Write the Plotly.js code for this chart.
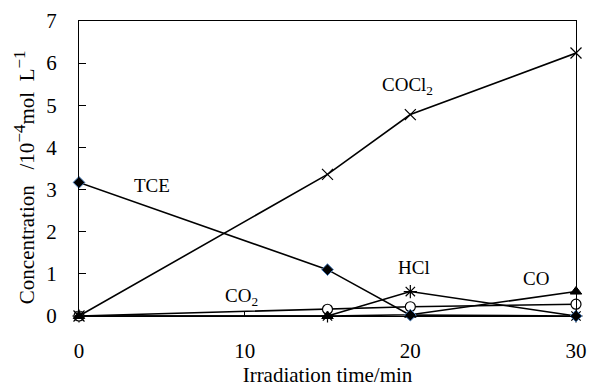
<!DOCTYPE html>
<html><head><meta charset="utf-8">
<script src="https://cdn.plot.ly/plotly-3.0.1.min.js"></script>
<style>html,body{margin:0;padding:0;background:#fff}#c{width:589px;height:387px}</style>
</head><body><div id="c"></div>
<script>
const time = [0, 15, 20, 30];
const tce = [3.17, 1.1, 0.02, 0];
const cocl2 = [0, 3.36, 4.78, 6.24];
const hcl = [0, 0, 0.58, 0];
const co2 = [0, 0.16, 0.22, 0.28];
const co = [0, 0, 0.03, 0.58];
const xTicks = [0, 10, 20, 30];
const yTicks = [0, 1, 2, 3, 4, 5, 6, 7];

const line = {color: '#000', width: 1.6};
const traces = [
  {x: time, y: hcl, mode: 'lines+markers', line: line, cliponaxis: false,
   marker: {symbol: 'asterisk-open', size: 11, color: '#000', line: {color: '#000', width: 1.2}}},
  {x: time, y: co2, mode: 'lines+markers', line: line, cliponaxis: false,
   marker: {symbol: 'circle', size: 10, color: '#fff', line: {color: '#000', width: 1.2}}},
  {x: time, y: co, mode: 'lines+markers', line: line, cliponaxis: false,
   marker: {symbol: 'triangle-up', size: 10, color: '#000', line: {color: '#000', width: 1}}},
  {x: time, y: cocl2, mode: 'lines+markers', line: line, cliponaxis: false,
   marker: {symbol: 'x-thin-open', size: 11, color: '#000', line: {color: '#000', width: 1.2}}},
  {x: time, y: tce, mode: 'lines+markers', line: line, cliponaxis: false,
   marker: {symbol: 'diamond', size: 9, color: '#000', line: {color: '#4a7ebb', width: 1}}}
];

const fam = 'Liberation Serif, Times New Roman, serif';
const tickFont = {family: fam, color: '#000', size: 21};
const titleFont = {family: fam, color: '#000', size: 21};
const annFont = {family: fam, color: '#000', size: 19};
const ann = (x, y, t) => ({x: x, y: y, xref: 'x', yref: 'y', text: t, showarrow: false, font: annFont});

const yTitle = 'Concentration&nbsp;&nbsp;&nbsp;/10<sup><span style="font-size:17px">−4</span></sup>mol&nbsp;&nbsp;L<sup><span style="font-size:17px">−1</span></sup>';

const layout = {
  width: 589, height: 387,
  margin: {l: 79, r: 13, t: 21, b: 71},
  paper_bgcolor: '#fff', plot_bgcolor: '#fff',
  showlegend: false,
  font: tickFont,
  xaxis: {range: [0, 30], tickvals: xTicks, ticktext: xTicks.map(String), tickfont: tickFont,
    ticks: 'inside', ticklen: 5, tickcolor: '#000', showline: true, linecolor: '#000', linewidth: 1,
    mirror: true, showgrid: false, zeroline: false, ticklabelstandoff: 16,
    title: {text: 'Irradiation time/min', font: titleFont, standoff: 0}},
  yaxis: {range: [0, 7], tickvals: yTicks, ticktext: yTicks.map(String), tickfont: tickFont,
    ticks: 'inside', ticklen: 7, tickcolor: '#000', showline: true, linecolor: '#000', linewidth: 1,
    mirror: true, showgrid: false, zeroline: false, ticklabelstandoff: 17},
  annotations: [
    {x: -0.109, y: 0.47, xref: 'paper', yref: 'paper', xanchor: 'center', yanchor: 'middle',
     textangle: -90, text: yTitle, showarrow: false, font: titleFont},
    ann(4.4, 3.1, 'TCE'),
    ann(19.8, 5.45, 'COCl<sub>2</sub>'),
    ann(20.2, 1.15, 'HCl'),
    ann(9.8, 0.45, 'CO<sub>2</sub>'),
    ann(27.6, 0.9, 'CO')
  ]
};
Plotly.newPlot('c', traces, layout, {displayModeBar: false, staticPlot: true});
</script></body></html>
